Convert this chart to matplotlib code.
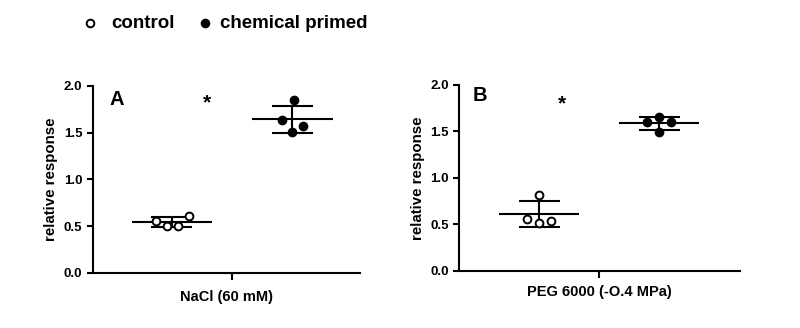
import numpy as np
import matplotlib.pyplot as plt
from matplotlib.lines import Line2D

plt.rcParams['font.family'] = ['Liberation Sans', 'DejaVu Sans']
plt.rcParams['font.weight'] = 'bold'

groups = ['control', 'chemical primed']

# panel A: NaCl (60 mM)
nacl_control = [0.56, 0.50, 0.50, 0.61]
nacl_primed = [1.64, 1.51, 1.57, 1.85]
# panel B: PEG 6000 (-0.4 MPa)
peg_control = [0.56, 0.52, 0.54, 0.82]
peg_primed = [1.60, 1.66, 1.60, 1.49]

# horizontal scatter of the points inside each group
jitter_a = [[-0.13, -0.04, 0.05, 0.14], [-0.09, 0.0, 0.09, 0.01]]
jitter_b = [[-0.10, 0.0, 0.10, 0.0], [-0.10, 0.0, 0.10, 0.0]]


def draw_panel(ax, series, jitter, xlabel, letter, letter_pos, star_pos,
               xlim, pad):
    for i, vals in enumerate(series):
        vals = np.array(vals)
        mean = vals.mean()
        sd = vals.std(ddof=1)
        face = 'white' if i == 0 else 'black'
        ax.plot(i + np.array(jitter[i]), vals, 'o', ms=5.6, mfc=face,
                mec='black', mew=1.4, zorder=3)
        ax.hlines(mean, i - 0.335, i + 0.335, color='black', lw=1.5)
        ax.vlines(i, mean - sd, mean + sd, color='black', lw=1.5)
        ax.hlines([mean - sd, mean + sd], i - 0.17, i + 0.17,
                  color='black', lw=1.5)

    ax.set_xlim(*xlim)
    ax.set_ylim(0, 2.0)
    ax.set_yticks([0, 0.5, 1.0, 1.5, 2.0])
    ax.set_yticklabels(['0.0', '0.5', '1.0', '1.5', '2.0'])
    ax.set_xticks([0.5])
    ax.set_xticklabels([''])
    ax.set_xlabel(xlabel, fontsize=10.5, fontweight='bold', labelpad=pad)
    ax.set_ylabel('relative response', fontsize=10.8, fontweight='bold')
    for s in ['top', 'right']:
        ax.spines[s].set_visible(False)
    for s in ['left', 'bottom']:
        ax.spines[s].set_linewidth(1.5)
    ax.tick_params(width=1.5, length=4, labelsize=9.5)
    ax.tick_params(axis='x', length=5)
    ax.text(*letter_pos, letter, fontsize=14.5, fontweight='bold',
            ha='center', va='center')
    ax.text(*star_pos, '*', fontsize=15, fontweight='bold',
            ha='center', va='center')


fig = plt.figure(figsize=(8, 3.28), dpi=100)
ax_a = fig.add_axes([0.116, 0.168, 0.334, 0.570])
ax_b = fig.add_axes([0.574, 0.174, 0.351, 0.567])

draw_panel(ax_a, [nacl_control, nacl_primed], jitter_a, 'NaCl (60 mM)',
           'A', (-0.46, 1.85), (0.29, 1.82), (-0.656, 1.56), 4)
draw_panel(ax_b, [peg_control, peg_primed], jitter_b, 'PEG 6000 (-O.4 MPa)',
           'B', (-0.49, 1.89), (0.19, 1.80), (-0.666, 1.673), 1.5)

# legend at the top
y_leg = 1 - 23 / 328
for x_m, x_t, face, label in [(0.1125, 0.139, 'white', groups[0]),
                              (0.256, 0.275, 'black', groups[1])]:
    fig.add_artist(Line2D([x_m], [y_leg], transform=fig.transFigure,
                          marker='o', ms=5.5, mfc=face, mec='black', mew=1.4))
    fig.text(x_t, y_leg, label, fontsize=13.5, fontweight='bold',
             va='center', ha='left')

fig.savefig('out.png', dpi=100)
